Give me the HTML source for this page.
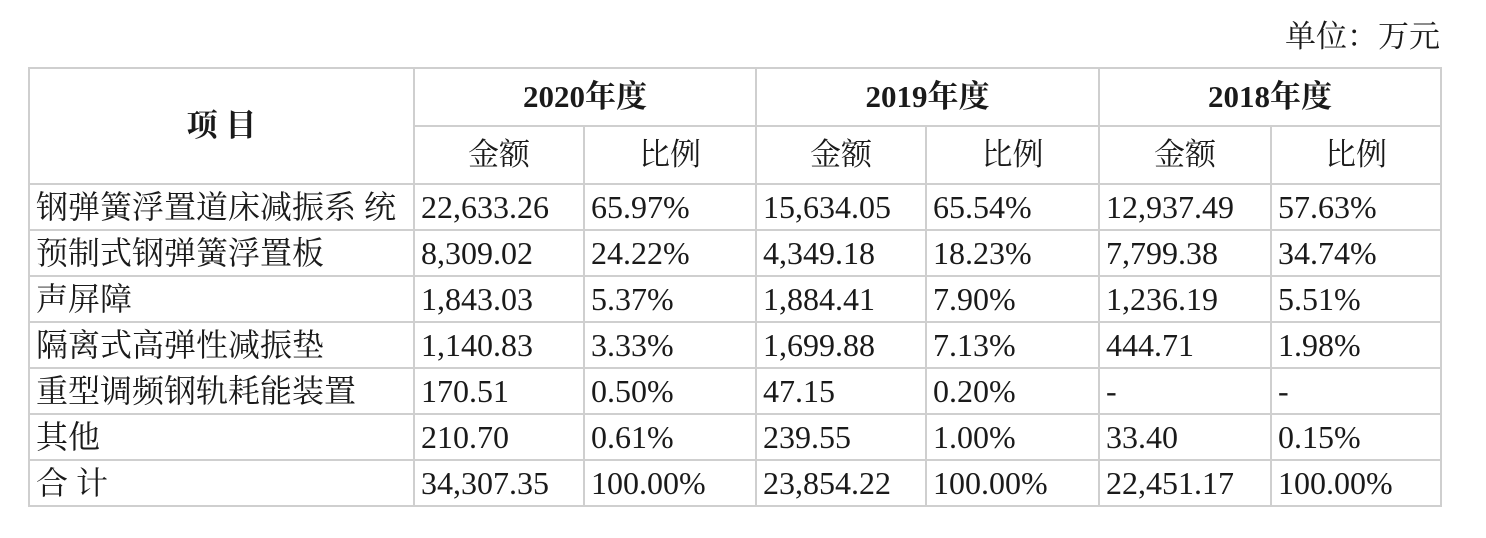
<!DOCTYPE html>
<html><head><meta charset="utf-8"><style>
body{margin:0;width:1486px;height:538px;background:#fff;font-family:"Liberation Serif","Noto Serif CJK SC",serif;color:#1a1a1a;position:relative;overflow:hidden}
.unit{position:absolute;right:46px;top:17px;font-size:31px;line-height:40px}
table{position:absolute;left:28px;top:67px;border-collapse:collapse;table-layout:fixed;font-size:32px}
td{border:2px solid #cfcfcf;padding:0 0 0 6px;white-space:nowrap;overflow:hidden;height:44px;line-height:44px}
.h{text-align:center;font-weight:bold;padding:0;font-size:31px}
.c{text-align:center;padding:0;font-size:31px}
</style></head><body>
<div class="unit">单位：万元</div>
<table>
<colgroup><col style="width:385px"><col style="width:170px"><col style="width:172px"><col style="width:170px"><col style="width:173px"><col style="width:172px"><col style="width:170px"></colgroup>
<tr style="height:58px"><td class="h" rowspan="2">项 目</td><td class="h" colspan="2" style="height:56px">2020年度</td><td class="h" colspan="2">2019年度</td><td class="h" colspan="2">2018年度</td></tr>
<tr style="height:58px"><td class="c" style="height:56px">金额</td><td class="c">比例</td><td class="c">金额</td><td class="c">比例</td><td class="c">金额</td><td class="c">比例</td></tr>
<tr><td>钢弹簧浮置道床减振系 统</td><td>22,633.26</td><td>65.97%</td><td>15,634.05</td><td>65.54%</td><td>12,937.49</td><td>57.63%</td></tr>
<tr><td>预制式钢弹簧浮置板</td><td>8,309.02</td><td>24.22%</td><td>4,349.18</td><td>18.23%</td><td>7,799.38</td><td>34.74%</td></tr>
<tr><td>声屏障</td><td>1,843.03</td><td>5.37%</td><td>1,884.41</td><td>7.90%</td><td>1,236.19</td><td>5.51%</td></tr>
<tr><td>隔离式高弹性减振垫</td><td>1,140.83</td><td>3.33%</td><td>1,699.88</td><td>7.13%</td><td>444.71</td><td>1.98%</td></tr>
<tr><td>重型调频钢轨耗能装置</td><td>170.51</td><td>0.50%</td><td>47.15</td><td>0.20%</td><td>-</td><td>-</td></tr>
<tr><td>其他</td><td>210.70</td><td>0.61%</td><td>239.55</td><td>1.00%</td><td>33.40</td><td>0.15%</td></tr>
<tr><td>合 计</td><td>34,307.35</td><td>100.00%</td><td>23,854.22</td><td>100.00%</td><td>22,451.17</td><td>100.00%</td></tr>
</table>
</body></html>
